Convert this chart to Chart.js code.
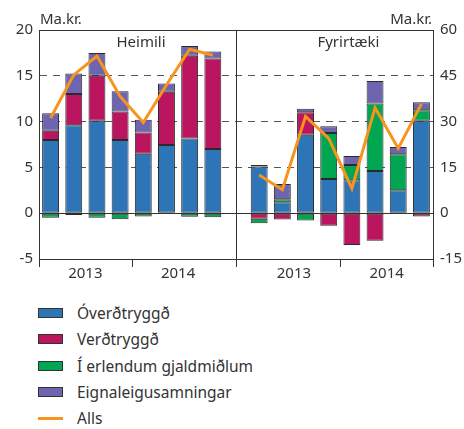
<!DOCTYPE html>
<html>
<head>
<meta charset="utf-8">
<script src="https://cdn.jsdelivr.net/npm/chart.js@4.4.0/dist/chart.umd.min.js"></script>
<style>
  body { margin: 0; background: #fff; font-family: 'Noto Sans', sans-serif; color: #333; }
  #wrap { position: relative; width: 464px; height: 290px; }
  #legend { position: absolute; left: 38px; top: 300px; font-size: 15.5px; }
  .item { height: 26.3px; display: flex; align-items: center; }
  .box { width: 23px; height: 8px; border: 1px solid #333; margin-right: 14px; }
  .line { width: 25px; height: 3px; margin-right: 14px; }
</style>
</head>
<body>
<div id="wrap"><canvas id="chart"></canvas></div>
<div id="legend"></div>
<script>
// categories: 8 quarters per panel, one empty slot between panels
const quarters = ['2013F1', '2013F2', '2013F3', '2013F4', '2014F1', '2014F2', '2014F3', '2014F4'];
const years = ['2013', '2014'];
const panels = ['Heimili', 'Fyrirtæki'];
const seriesNames = ['Óverðtryggð', 'Verðtryggð', 'Í erlendum gjaldmiðlum', 'Eignaleigusamningar', 'Alls'];
const seriesColors = ['#2e75b8', '#bb1560', '#00a651', '#6e65b0', '#f7941d'];
const leftTicks = [-5, 0, 5, 10, 15, 20];
const rightTicks = [-15, 0, 15, 30, 45, 60];

// Heimili (ma.kr., vinstri ás)
const hOvt = [8.0, 9.6, 10.1, 8.0, 6.5, 7.45, 8.15, 7.0];
const hVt = [1.0, 3.4, 4.9, 3.1, 2.3, 5.8, 9.05, 9.9];
const hErl = [-0.5, -0.2, -0.5, -0.65, -0.35, null, -0.4, -0.45];
const hEign = [1.9, 2.25, 2.5, 2.2, 1.4, 0.9, 1.05, 0.75];
const hAlls = [10.4, 15.1, 17.15, 12.75, 9.9, 14.0, 17.9, 17.25];

// Fyrirtæki (ma.kr., hægri ás)
const fOvt = [15.3, 3.6, 25.7, 11.2, 10.8, 13.8, 7.5, 30.3];
const fVt = [-1.8, -2.1, 7.4, -4.1, -10.4, -9.0, null, -1.1];
const fErl = [-1.5, 1.0, -2.4, 15.1, 5.0, 22.1, 11.8, 3.4];
const fEign = [0.5, 5.0, 1.1, 2.2, 2.9, 7.4, 2.4, 2.65];
const fAlls = [12.5, 7.7, 31.7, 24.5, 8.1, 34.5, 21.2, 35.8];

const gap = 9; // index of the first right panel category
const labels = quarters.concat(['']).concat(quarters);
const pad = (arr, right) => right ? Array(gap).fill(null).concat(arr) : arr.concat(Array(gap).fill(null));

const barSets = [];
[[hOvt, hVt, hErl, hEign], [fOvt, fVt, fErl, fEign]].forEach((group, p) => {
  group.forEach((arr, i) => {
    barSets.push({
      type: 'bar',
      label: seriesNames[i],
      data: pad(arr, p === 1),
      backgroundColor: seriesColors[i],
      borderColor: '#2a2a2a',
      borderWidth: 1,
      borderSkipped: false,
      yAxisID: p === 0 ? 'y' : 'y2',
      stack: 'bars',
      order: 1
    });
  });
});

const lineSets = [hAlls, fAlls].map((arr, p) => ({
  type: 'line',
  label: seriesNames[4],
  data: pad(arr, p === 1),
  borderColor: seriesColors[4],
  borderWidth: 3,
  pointRadius: 0,
  tension: 0,
  yAxisID: p === 0 ? 'y' : 'y2',
  stack: 'alls' + p,
  order: 0
}));

const txt = '#333';
const font = { family: "'Noto Sans', sans-serif", size: 15 };

// panel divider, year labels and x tick marks, titles, units
const decor = {
  id: 'decor',
  afterDraw(chart) {
    const { ctx, chartArea: a, scales: { x } } = chart;
    ctx.save();
    ctx.strokeStyle = '#333';
    ctx.lineWidth = 1;
    const divX = Math.round(x.getPixelForValue(gap - 1)) + 0.5;
    ctx.beginPath();
    ctx.moveTo(divX, a.top);
    ctx.lineTo(divX, a.bottom + 8);
    [-0.5, 3.5, 12.5, 16.5].forEach(v => {
      const px = Math.round(x.getPixelForValue(v)) + 0.5;
      ctx.moveTo(px, a.bottom);
      ctx.lineTo(px, a.bottom + 8);
    });
    ctx.stroke();

    ctx.fillStyle = txt;
    ctx.font = "15px 'Noto Sans', sans-serif";
    ctx.textAlign = 'center';
    ctx.textBaseline = 'middle';
    [0, gap].forEach(off => {
      years.forEach((y, k) => {
        ctx.fillText(y, x.getPixelForValue(off + 4 * k + 1.5), a.bottom + 15);
      });
    });
    ctx.fillText(panels[0], x.getPixelForValue(3.9), a.top + 13);
    ctx.fillText(panels[1], x.getPixelForValue(12.85), a.top + 13);

    ctx.textBaseline = 'alphabetic';
    ctx.textAlign = 'left';
    ctx.fillText('Ma.kr.', a.left + 1, a.top - 6);
    ctx.textAlign = 'right';
    ctx.fillText('Ma.kr.', a.right - 1, a.top - 6);
    ctx.restore();
  }
};

new Chart(document.getElementById('chart'), {
  data: { labels: labels, datasets: lineSets.concat(barSets) },
  options: {
    responsive: true,
    maintainAspectRatio: false,
    animation: false,
    layout: { padding: { top: 30, left: 0, right: 0, bottom: 0 } },
    datasets: { bar: { barPercentage: 0.73, categoryPercentage: 1 } },
    plugins: { legend: { display: false }, tooltip: { enabled: false } },
    scales: {
      x: {
        stacked: true,
        ticks: { display: false },
        grid: { display: false },
        border: { display: true, color: txt, width: 1 },
        afterFit: s => { s.height = 31; }
      },
      y: {
        position: 'left',
        stacked: true,
        min: -5, max: 20,
        afterBuildTicks: s => { s.ticks = leftTicks.map(v => ({ value: v })); },
        ticks: { color: txt, font: font, padding: 6 },
        grid: {
          drawTicks: false,
          color: c => [5, 10, 15].includes(c.tick.value) ? '#555' : '#333'
        },
        border: {
          color: txt,
          dash: c => (c.tick && [5, 10, 15].includes(c.tick.value)) ? [7, 6] : []
        },
        afterFit: s => { s.width = 39; }
      },
      y2: {
        position: 'right',
        stacked: true,
        min: -15, max: 60,
        afterBuildTicks: s => { s.ticks = rightTicks.map(v => ({ value: v })); },
        ticks: { color: txt, font: font, padding: 7 },
        grid: { drawOnChartArea: false, drawTicks: false },
        border: { color: txt },
        afterFit: s => { s.width = 31; }
      }
    }
  },
  plugins: [decor]
});

// legend
const leg = document.getElementById('legend');
seriesNames.forEach((name, i) => {
  const row = document.createElement('div');
  row.className = 'item';
  const mark = document.createElement('span');
  mark.className = i < 4 ? 'box' : 'line';
  mark.style.background = seriesColors[i];
  row.appendChild(mark);
  row.appendChild(document.createTextNode(name));
  leg.appendChild(row);
});
</script>
</body>
</html>
